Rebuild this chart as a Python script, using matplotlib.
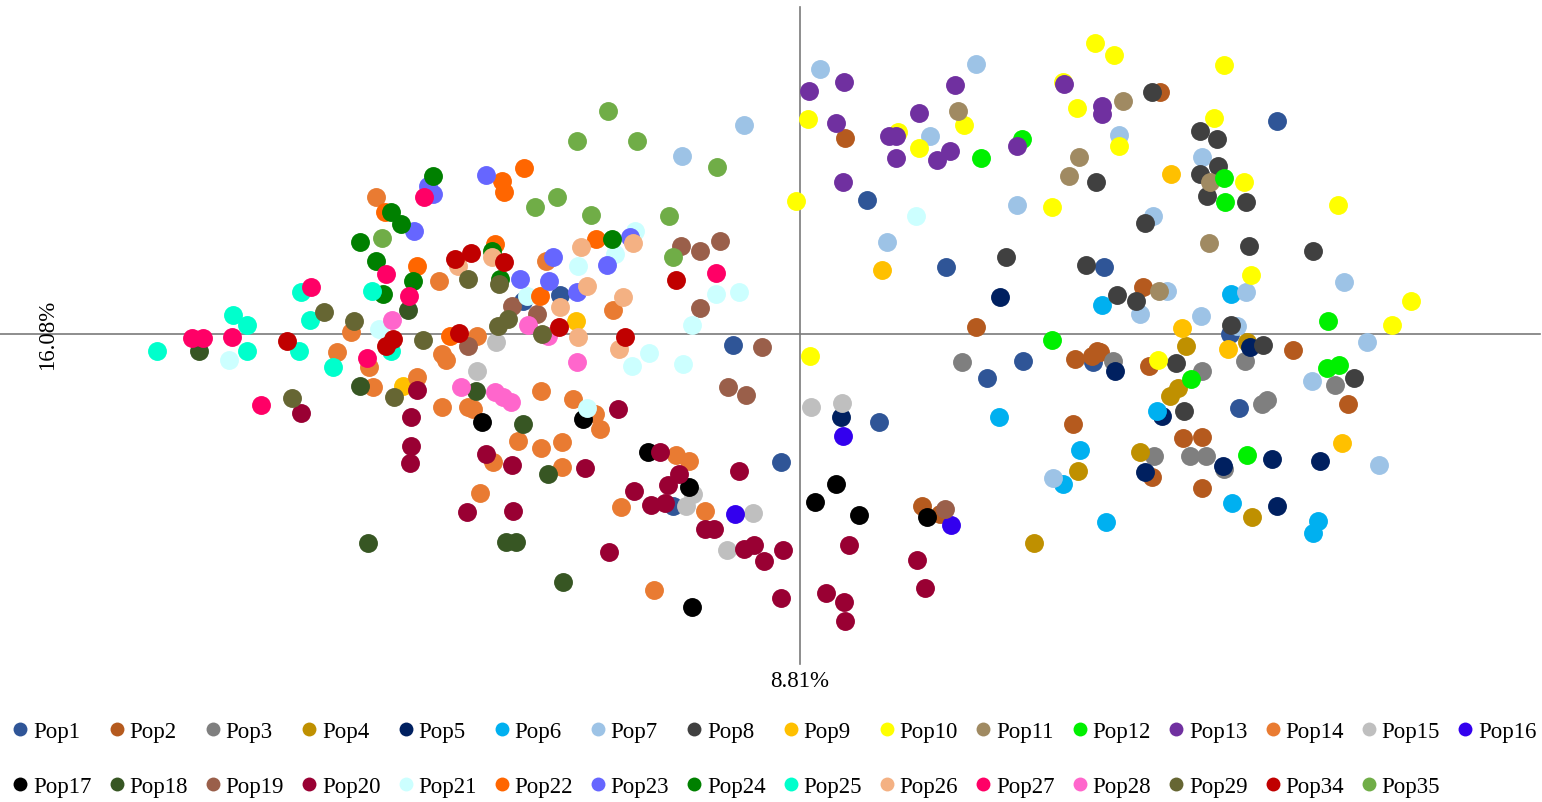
import matplotlib
matplotlib.use('Agg')
import matplotlib.pyplot as plt
from matplotlib.lines import Line2D
from matplotlib.transforms import blended_transform_factory

# PCA scores per population (PC1, PC2)
pop1_x = [4.77, 0.67, 1.46, 3.04, -2.40, -2.77, -0.67, 2.23, 1.87, 2.93, 4.39, 0.79, -0.19, -1.27, 4.30]
pop1_y = [2.13, 1.34, 0.67, 0.67, 0.39, 0.33, -0.11, -0.27, -0.44, -0.28, -0.74, -0.88, -1.28, -1.72, 0.00]
pop2_x = [0.45, 3.60, 1.76, 2.75, 2.92, 2.97, 2.73, 3.43, 3.00, 3.49, 4.93, 5.48, 3.83, 4.02, 3.52, 4.02, 1.22, 1.40]
pop2_y = [1.96, 2.42, 0.07, -0.25, -0.22, -0.17, -0.90, 0.47, -0.18, -0.32, -0.16, -0.70, -1.04, -1.03, -1.43, -1.54, -1.72, -1.80]
pop3_x = [1.62, 3.13, 4.45, 4.02, 4.62, 4.67, 5.35, 3.54, 3.90, 4.06, 4.24]
pop3_y = [-0.28, -0.27, -0.27, -0.37, -0.70, -0.66, -0.51, -1.22, -1.22, -1.22, -1.35]
pop4_x = [3.86, 4.47, 3.78, 3.70, 3.40, 4.52, 2.78, 2.34]
pop4_y = [-0.12, -0.08, -0.54, -0.62, -1.18, -1.83, -1.37, -2.09]
pop5_x = [2.00, 0.41, 3.15, 4.50, 3.62, 3.45, 4.23, 4.72, 5.20, 4.77]
pop5_y = [0.37, -0.83, -0.37, -0.13, -0.82, -1.38, -1.32, -1.25, -1.27, -1.72]
pop6_x = [3.02, 1.99, 2.80, 4.31, 3.57, 2.63, 3.06, 4.32, 5.18, 5.13]
pop6_y = [0.29, -0.83, -1.16, 0.40, -0.77, -1.50, -1.88, -1.69, -1.87, -1.99]
pop7_x = [-0.56, -1.18, 0.20, 1.76, 1.30, 2.17, 0.87, 3.19, 4.02, 3.53, 3.67, 3.40, 4.01, 4.46, 5.44, 5.67, 5.12, 4.37, 5.79, 2.53]
pop7_y = [2.09, 1.78, 2.65, 2.70, 1.98, 1.29, 0.92, 1.99, 1.77, 1.18, 0.43, 0.20, 0.18, 0.42, 0.52, -0.08, -0.47, 0.08, -1.31, -1.44]
pop8_x = [2.96, 3.52, 4.00, 4.17, 4.18, 4.00, 4.07, 4.46, 3.45, 2.06, 2.86, 4.49, 5.13, 3.17, 3.36, 4.31, 4.63, 3.76, 5.54, 3.84]
pop8_y = [1.52, 2.42, 2.03, 1.95, 1.68, 1.60, 1.38, 1.32, 1.11, 0.77, 0.69, 0.88, 0.83, 0.39, 0.33, 0.09, -0.11, -0.29, -0.44, -0.77]
pop9_x = [3.71, 0.82, 3.82, 4.28, 5.42, -2.24, -3.97]
pop9_y = [1.60, 0.64, 0.06, -0.15, -1.09, 0.13, -0.52]
pop10_x = [2.95, 3.14, 0.08, 0.98, 1.19, 1.64, 2.63, 2.77, 2.52, -0.04, 4.24, 4.14, 3.19, 4.44, 5.38, 0.10, 4.51, 6.11, 5.92, 3.58]
pop10_y = [2.91, 2.79, 2.15, 2.02, 1.86, 2.09, 2.52, 2.26, 1.27, 1.33, 2.69, 2.16, 1.88, 1.52, 1.29, -0.22, 0.59, 0.33, 0.09, -0.26]
pop11_x = [1.58, 2.79, 2.69, 3.23, 4.10, 4.09, 3.59]
pop11_y = [2.23, 1.77, 1.58, 2.33, 1.52, 0.91, 0.43]
pop12_x = [2.22, 1.81, 4.24, 4.25, 2.52, 5.28, 5.27, 5.39, 3.91, 4.47]
pop12_y = [1.95, 1.76, 1.56, 1.32, -0.06, 0.13, -0.34, -0.31, -0.45, -1.21]
pop13_x = [0.09, 0.44, 0.36, 0.43, 0.89, 0.96, 0.96, 1.19, 1.37, 1.50, 1.55, 2.17, 2.64, 3.02, 3.02]
pop13_y = [2.43, 2.52, 2.11, 1.52, 1.98, 1.98, 1.76, 2.21, 1.74, 1.83, 2.49, 1.88, 2.50, 2.28, 2.20]
pop14_x = [-4.24, -3.61, -4.49, -4.63, -4.31, -3.58, -3.54, -3.83, -4.27, -3.58, -3.32, -3.23, -2.54, -1.87, -2.59,
           -2.27, -3.27, -2.05, -2.00, -2.82, -2.59, -2.38, -2.38, -3.07, -3.20, -1.79, -1.24, -1.11, -0.95, -1.46]
pop14_y = [1.37, 0.53, 0.02, -0.18, -0.33, -0.20, -0.26, -0.43, -0.53, -0.73, -0.73, -0.02, 0.73, 0.24, -0.57,
           -0.65, -0.75, -0.80, -0.95, -1.07, -1.14, -1.08, -1.33, -1.28, -1.59, -1.73, -1.21, -1.27, -1.77, -2.56]
pop15_x = [-3.04, -3.23, 0.11, 0.42, -1.14, -0.47, -0.73, -1.07]
pop15_y = [-0.08, -0.37, -0.73, -0.69, -1.72, -1.79, -2.16, -1.60]
pop16_x = [0.43, -0.65, 1.51]
pop16_y = [-1.02, -1.80, -1.91]
pop17_x = [-3.18, -2.17, -1.52, -1.11, -1.08, 0.36, 0.15, 0.59, 1.27]
pop17_y = [-0.88, -0.85, -1.18, -1.53, -2.73, -1.50, -1.68, -1.81, -1.83]
pop18_x = [-6.01, -4.40, -3.92, -3.24, -2.77, -4.32, -2.52, -2.94, -2.84, -2.37]
pop18_y = [-0.17, -0.52, 0.24, -0.57, -0.90, -2.09, -1.40, -2.08, -2.08, -2.48]
pop19_x = [-1.19, -1.00, -0.80, -1.00, -0.38, -0.72, -0.54, -2.88, -2.63, -3.32, 1.45]
pop19_y = [0.88, 0.83, 0.93, 0.26, -0.13, -0.53, -0.61, 0.28, 0.20, -0.12, -1.75]
pop20_x = [-4.99, -3.83, -3.89, -3.89, -3.90, -3.14, -2.88, -2.15, -3.33, -2.87, -1.91, -1.66, -1.40, -1.21, -1.32, -1.49,
           -1.35, -0.61, -0.95, -0.86, -0.56, -0.46, -0.36, -0.17, -0.19, 0.49, 1.17, 1.25, 0.26, 0.44, 0.45, -1.82]
pop20_y = [-0.79, -0.56, -0.83, -1.12, -1.29, -1.20, -1.31, -1.34, -1.78, -1.77, -2.18, -1.57, -1.18, -1.40, -1.51, -1.71,
           -1.69, -1.37, -1.95, -1.95, -2.15, -2.11, -2.27, -2.16, -2.64, -2.11, -2.26, -2.54, -2.59, -2.68, -2.87, -0.75]
pop21_x = [-5.71, -4.21, -2.22, -1.65, -2.73, -1.85, -0.84, -0.61, -1.08, -1.51, -1.68, -1.17, -2.13, 1.16]
pop21_y = [-0.26, 0.05, 0.68, 1.03, 0.38, 0.80, 0.40, 0.42, 0.09, -0.19, -0.32, -0.30, -0.74, 1.18]
pop22_x = [-4.15, -2.76, -2.98, -2.96, -2.04, -3.05, -3.83, -3.50, -2.60]
pop22_y = [1.22, 1.66, 1.53, 1.42, 0.95, 0.90, 0.68, -0.02, 0.38]
pop23_x = [-3.72, -3.67, -3.86, -3.14, -2.47, -1.93, -2.80, -2.51, -2.23, -1.70]
pop23_y = [1.48, 1.40, 1.03, 1.59, 0.77, 0.69, 0.55, 0.53, 0.42, 0.97]
pop24_x = [-3.67, -4.09, -3.99, -4.40, -4.24, -4.17, -3.87, -1.88, -3.00, -3.08]
pop24_y = [1.58, 1.22, 1.10, 0.92, 0.73, 0.40, 0.53, 0.95, 0.55, 0.83]
pop25_x = [-6.43, -5.67, -5.53, -5.53, -4.99, -4.90, -5.01, -4.67, -4.28, -4.09]
pop25_y = [-0.17, 0.19, 0.09, -0.17, 0.42, 0.14, -0.17, -0.33, 0.43, -0.17]
pop26_x = [-2.19, -1.67, -3.08, -2.13, -1.77, -2.40, -2.22, -1.81, -3.42]
pop26_y = [0.87, 0.91, 0.77, 0.48, 0.37, 0.27, -0.03, -0.15, 0.68]
pop27_x = [-3.76, -6.08, -5.97, -5.68, -4.89, -5.39, -4.14, -3.91, -4.33, -0.84]
pop27_y = [1.37, -0.04, -0.04, -0.03, 0.47, -0.71, 0.60, 0.38, -0.24, 0.61]
pop28_x = [-4.08, -3.39, -2.72, -2.23, -3.05, -2.97, -2.89, -2.52]
pop28_y = [0.14, -0.53, 0.09, -0.28, -0.58, -0.63, -0.68, -0.02]
pop29_x = [-4.76, -4.46, -5.08, -4.06, -3.77, -3.32, -3.01, -3.02, -2.92, -2.58]
pop29_y = [0.22, 0.13, -0.64, -0.63, -0.06, 0.55, 0.50, 0.08, 0.15, 0.00]
pop34_x = [-5.13, -3.45, -3.29, -4.14, -4.07, -3.41, -2.96, -2.41, -1.75, -1.24]
pop34_y = [-0.07, 0.75, 0.81, -0.12, -0.05, 0.01, 0.72, 0.07, -0.03, 0.54]
pop35_x = [-1.92, -2.23, -1.63, -0.83, -2.43, -2.65, -2.09, -1.31, -4.18, -1.27]
pop35_y = [2.23, 1.93, 1.93, 1.67, 1.37, 1.27, 1.19, 1.18, 0.96, 0.77]

names = ['Pop1', 'Pop2', 'Pop3', 'Pop4', 'Pop5', 'Pop6', 'Pop7', 'Pop8', 'Pop9', 'Pop10', 'Pop11',
         'Pop12', 'Pop13', 'Pop14', 'Pop15', 'Pop16', 'Pop17', 'Pop18', 'Pop19', 'Pop20', 'Pop21',
         'Pop22', 'Pop23', 'Pop24', 'Pop25', 'Pop26', 'Pop27', 'Pop28', 'Pop29', 'Pop34', 'Pop35']
xs = [pop1_x, pop2_x, pop3_x, pop4_x, pop5_x, pop6_x, pop7_x, pop8_x, pop9_x, pop10_x, pop11_x,
      pop12_x, pop13_x, pop14_x, pop15_x, pop16_x, pop17_x, pop18_x, pop19_x, pop20_x, pop21_x,
      pop22_x, pop23_x, pop24_x, pop25_x, pop26_x, pop27_x, pop28_x, pop29_x, pop34_x, pop35_x]
ys = [pop1_y, pop2_y, pop3_y, pop4_y, pop5_y, pop6_y, pop7_y, pop8_y, pop9_y, pop10_y, pop11_y,
      pop12_y, pop13_y, pop14_y, pop15_y, pop16_y, pop17_y, pop18_y, pop19_y, pop20_y, pop21_y,
      pop22_y, pop23_y, pop24_y, pop25_y, pop26_y, pop27_y, pop28_y, pop29_y, pop34_y, pop35_y]
colors = ['#2F5597', '#B55A1E', '#7F7F7F', '#BF9000', '#002060', '#00B0F0', '#9DC3E6', '#404040',
          '#FFC000', '#FFFF00', '#A08A62', '#00F000', '#7030A0', '#E97B32', '#BFBFBF', '#3300EE',
          '#000000', '#375623', '#9A5F4A', '#990033', '#CCFFFF', '#FF6600', '#6666FF', '#008000',
          '#00FFCC', '#F4B183', '#FF0066', '#FF66CC', '#666633', '#C00000', '#70AD47']

plt.rcParams['font.family'] = ['Liberation Serif', 'DejaVu Serif']

fig = plt.figure(figsize=(15.42, 8.03), dpi=100)
ax = fig.add_axes([0.0, 0.172, 0.9987, 0.818])

for x, y, c in zip(xs, ys, colors):
    ax.scatter(x, y, s=185, color=c, linewidths=0, zorder=3)

ax.set_xlim(-8.0, 7.4)
ax.set_ylim(-3.30, 3.27)

ax.spines['top'].set_color('none')
ax.spines['right'].set_color('none')
ax.spines['left'].set_position('zero')
ax.spines['bottom'].set_position('zero')
for side in ['left', 'bottom']:
    ax.spines[side].set_color('#7a7a7a')
    ax.spines[side].set_linewidth(1.2)
ax.set_xticks([])
ax.set_yticks([])

# axis variance labels
ax.text(0.031, 0, '16.08%', transform=blended_transform_factory(ax.transAxes, ax.transData),
        rotation=90, ha='center', va='center', fontsize=16.5)
ax.text(0, -0.026, '8.81%', transform=blended_transform_factory(ax.transData, ax.transAxes),
        ha='center', va='center', fontsize=16.5)

# legend laid out in two rows of 16 columns
handles = [Line2D([], [], marker='o', linestyle='none', markersize=10,
                  markerfacecolor=c, markeredgewidth=0) for c in colors]
order = []
for j in range(16):
    order.append(j)
    if j + 16 < len(names):
        order.append(j + 16)
    else:
        order.append(None)
h_sorted, l_sorted = [], []
for k in order:
    if k is None:
        h_sorted.append(Line2D([], [], linestyle='none'))
        l_sorted.append('')
    else:
        h_sorted.append(handles[k])
        l_sorted.append(names[k])
fig.legend(h_sorted, l_sorted, ncol=16, loc='center', bbox_to_anchor=(0.5026, 1 - 760 / 803),
           frameon=False, fontsize=16.5, handlelength=0.6, handletextpad=0.25,
           columnspacing=0.8, labelspacing=1.47, borderpad=0)

fig.savefig('out.png', dpi=100)
